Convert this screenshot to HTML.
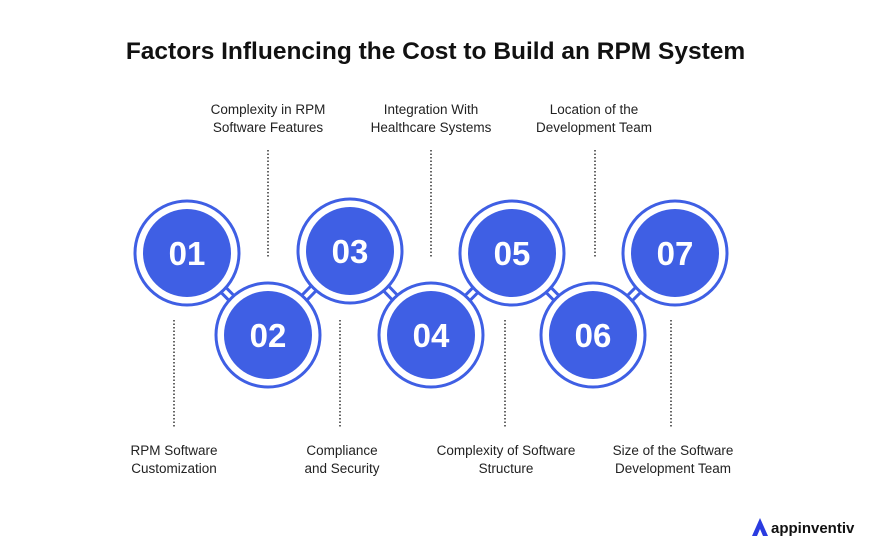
<!DOCTYPE html><html><head><style>
body{margin:0;width:871px;height:551px;background:#fff;overflow:hidden;font-family:"Liberation Sans",sans-serif;}
.t{position:absolute;width:871px;top:38px;text-align:center;font-weight:bold;font-size:24.5px;color:#111;}
.l{position:absolute;width:200px;text-align:center;font-size:13.5px;line-height:18px;color:#222;}
</style></head><body>
<div class="t">Factors Influencing the Cost to Build an RPM System</div>
<div class="l" style="left:168px;top:101px">Complexity in RPM<br>Software Features</div>
<div class="l" style="left:331px;top:101px">Integration With<br>Healthcare Systems</div>
<div class="l" style="left:494px;top:101px">Location of the<br>Development Team</div>
<div class="l" style="left:74px;top:442px">RPM Software<br>Customization</div>
<div class="l" style="left:242px;top:442px">Compliance<br>and Security</div>
<div class="l" style="left:406px;top:442px">Complexity of Software<br>Structure</div>
<div class="l" style="left:573px;top:442px">Size of the Software<br>Development Team</div>
<svg width="871" height="551" style="position:absolute;left:0;top:0">
<g stroke="#333" stroke-width="1.5" stroke-dasharray="1.5,2">
<line x1="268" y1="150" x2="268" y2="258"/><line x1="431" y1="150" x2="431" y2="258"/><line x1="595" y1="150" x2="595" y2="258"/>
<line x1="174" y1="320" x2="174" y2="428"/><line x1="340" y1="320" x2="340" y2="428"/><line x1="505" y1="320" x2="505" y2="428"/><line x1="671" y1="320" x2="671" y2="428"/>
</g>
<g stroke="#3f5fe4" fill="none">
<path d="M187 253 L268 335 L350 251 L431 335 L512 253 L593 335 L675 253" stroke-width="10"/>
<path d="M187 253 L268 335 L350 251 L431 335 L512 253 L593 335 L675 253" stroke="#fff" stroke-width="4"/>
</g>
<g fill="#fff" stroke="#3f5fe4" stroke-width="3">
<circle cx="187" cy="253" r="52"/><circle cx="268" cy="335" r="52"/><circle cx="350" cy="251" r="52"/><circle cx="431" cy="335" r="52"/><circle cx="512" cy="253" r="52"/><circle cx="593" cy="335" r="52"/><circle cx="675" cy="253" r="52"/>
</g>
<g fill="#3f5fe4">
<circle cx="187" cy="253" r="44"/><circle cx="268" cy="335" r="44"/><circle cx="350" cy="251" r="44"/><circle cx="431" cy="335" r="44"/><circle cx="512" cy="253" r="44"/><circle cx="593" cy="335" r="44"/><circle cx="675" cy="253" r="44"/>
</g>
<g font-family="Liberation Sans" font-weight="bold" font-size="33" fill="#fff" text-anchor="middle">
<text x="187" y="265">01</text><text x="268" y="347">02</text><text x="350" y="263">03</text><text x="431" y="347">04</text><text x="512" y="265">05</text><text x="593" y="347">06</text><text x="675" y="265">07</text>
</g>
<path d="M752 536 L760 518 L768 536 L763 536 L760 529 L757 536Z" fill="#2a3be0"/>
<text x="771" y="533" font-family="Liberation Sans" font-weight="bold" font-size="15" fill="#111">appinventiv</text>
</svg>
</body></html>
